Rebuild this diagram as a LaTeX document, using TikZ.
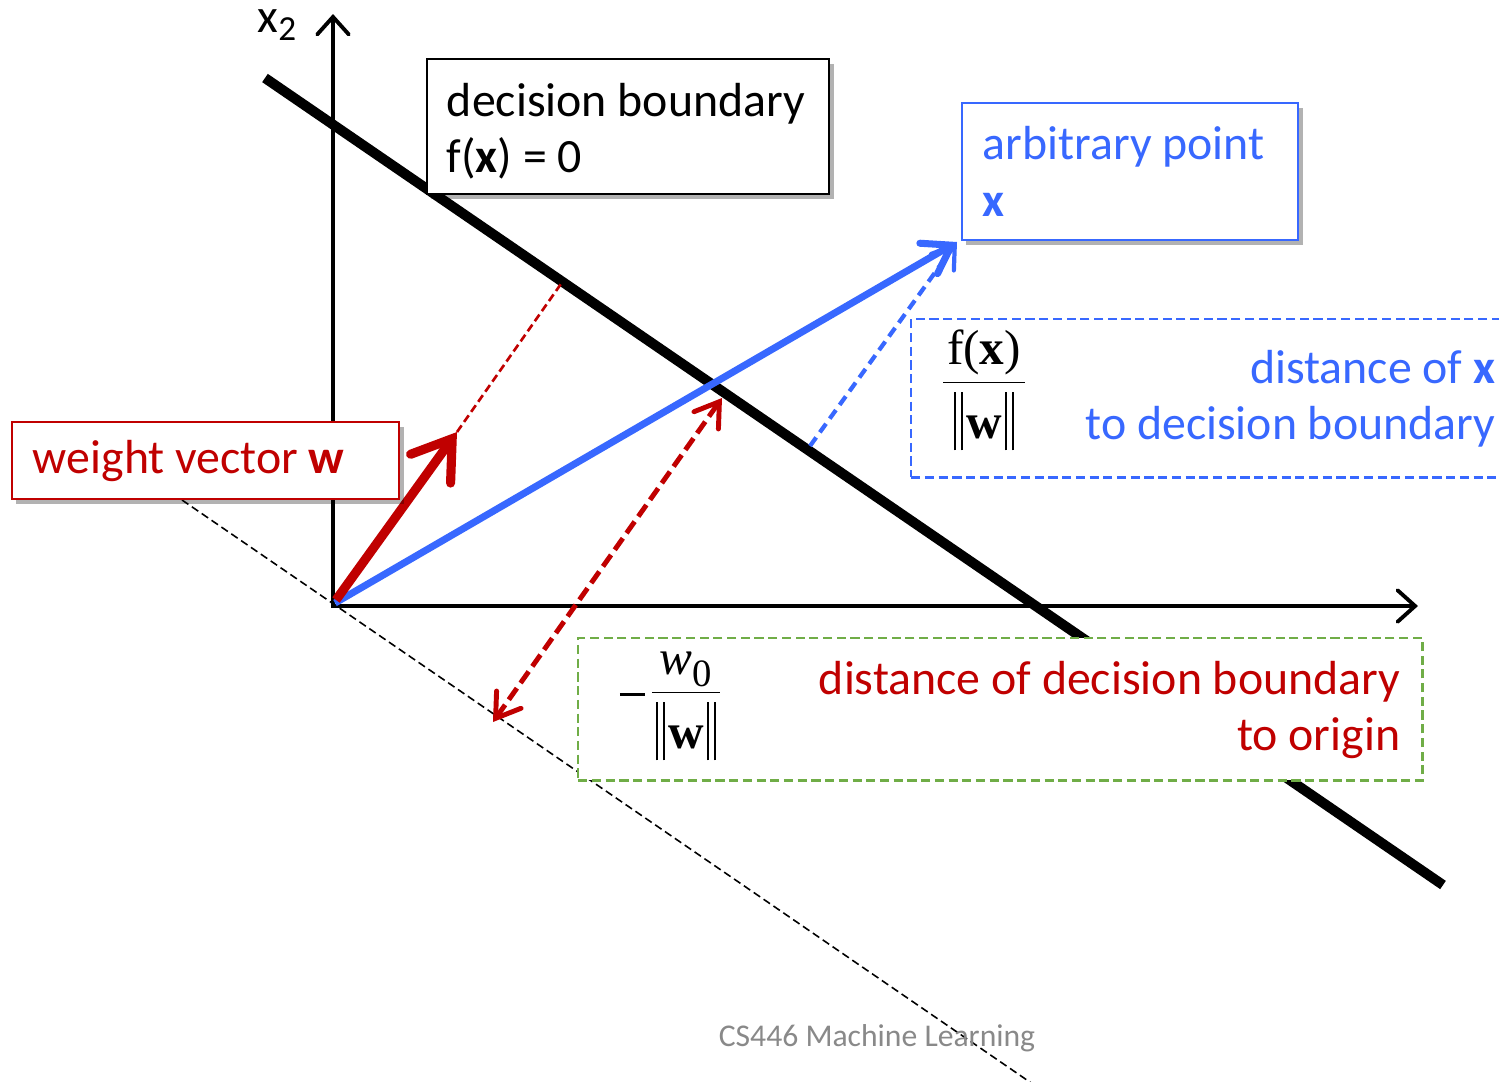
\documentclass[tikz,border=0pt]{standalone}
\usepackage{fontspec}
\setmainfont{Carlito}
\newfontfamily\tnr{Liberation Serif}
\usetikzlibrary{arrows.meta,shadows}
\definecolor{myred}{RGB}{192,0,0}
\definecolor{myblue}{RGB}{56,104,255}
\definecolor{mygreen}{RGB}{112,173,71}
\definecolor{mygray}{RGB}{137,137,137}
\hyphenpenalty=10000
\newcommand\mysp{\spaceskip=\fontdimen2\font\relax\xspaceskip=\fontdimen2\font\relax}
\newcommand\mydbar{\rule[-0.24em]{0.05em}{1.18em}\kern0.09em\rule[-0.24em]{0.05em}{1.18em}}
\newcommand\mynorm[1]{\mydbar\kern0.06em#1\kern0.06em\mydbar}
\newcommand\myfrac[2]{\begin{tabular}{@{\kern0.08em}c@{\kern0.08em}}#1\\[0.02em]\hline\rule{0pt}{1.12em}#2\end{tabular}}
\begin{document}
\begin{tikzpicture}[x=0.01cm,y=-0.01cm,
  txt/.style={font=\fontsize{13.6}{16}\selectfont},
  mathtxt/.style={font=\fontsize{14}{16}\selectfont\tnr, inner sep=0pt},
  box/.style={draw,line width=0.7pt,fill=white,txt,align=left,inner ysep=0pt,
     drop shadow={shadow xshift=1.3pt,shadow yshift=-1.3pt,fill=black,opacity=0.3}},
  dbox/.style={line width=0.7pt,fill=white,dash pattern=on 2.6pt off 1.3pt,inner sep=0pt,anchor=north west},
  axisline/.style={line width=1.1pt,-{Straight Barb[length=5pt,width=9pt,line cap=round]}},
  bound/.style={line width=2.85pt},
  wvec/.style={myred,line width=2.6pt,-{Straight Barb[length=10.5pt,width=14pt,line cap=round]}},
  xvec/.style={myblue,line width=2pt,-{Straight Barb[length=7.5pt,width=10pt,line cap=round]}},
  xdist/.style={myblue,line width=1.2pt,dash pattern=on 3pt off 1.8pt,-{Straight Barb[length=6pt,width=8pt,line cap=round]}},
  odist/.style={myred,line width=1.4pt,dash pattern=on 4pt off 1.8pt,{Straight Barb[length=6.5pt,width=8.5pt,line cap=round]}-{Straight Barb[length=6.5pt,width=8.5pt,line cap=round]}},
  wext/.style={myred,line width=0.75pt,dash pattern=on 2.3pt off 1.2pt},
  perp/.style={line width=0.45pt,dash pattern=on 2.2pt off 1.2pt}
]
\path[use as bounding box] (0,0) rectangle (1499,1081);
\clip (0,0) rectangle (1499,1081);

% coordinates
\coordinate (O) at (333,604);
\coordinate (ytop) at (333,14);
\coordinate (xs) at (331,606);
\coordinate (xe) at (1418,606);
\coordinate (b1) at (265,78);
\coordinate (b2) at (1443,885);
\coordinate (p1) at (182,500);
\coordinate (p2) at (1040,1089);
\coordinate (wo) at (336,600);
\coordinate (wt) at (457,432);
\coordinate (wb) at (563,281);
\coordinate (xo) at (335,603);
\coordinate (xp) at (957,242);
\coordinate (fb) at (810,446);
\coordinate (r1) at (493,722);
\coordinate (r2) at (722,398);

% axes and boundary
\draw[axisline] (O) -- (ytop);
\draw[axisline] (xs) -- (xe);
\draw[bound] (b1) -- (b2);
\draw[perp] (p1) -- (p2);

% vectors
\draw[wext] (wt) -- (wb);
\draw[odist] (r1) -- (r2);
\draw[xdist] (fb) -- (xp);
\draw[xvec] (xo) -- (xp);
\draw[wvec] (wo) -- (wt);

% labels
\node[txt, inner sep=0pt] (x2) at (277,25) {x\raisebox{-0.35ex}{\fontsize{10}{10}\selectfont 2}};

\node[box, text width=3.72cm, inner xsep=0.15cm, minimum height=1.35cm] (db) at (628,126.5)
  {\mysp\rule{0pt}{0.9em}\hspace*{0.05cm}decision boundary\\ \hspace*{0.05cm}f(\textbf{x}) = 0};
\node[box, draw=myblue, text=myblue, text width=2.94cm, inner xsep=0.21cm, minimum height=1.37cm] (ap) at (1130,171.5)
  {\mysp arbitrary point\\ \textbf{x}};
\node[box, draw=myred, text=myred, text width=3.45cm, inner xsep=0.21cm, minimum height=0.77cm] (wv) at (205.5,460.5)
  {\mysp weight vector \textbf{w}};

% blue dashed box
\node[dbox, draw=myblue, minimum width=6.2cm, minimum height=1.58cm] (bd) at (910,318) {};
\node[mathtxt] (fx) at (984,390)
  {\myfrac{f(\textbf{x})}{\mynorm{\textbf{w}}}};
\node[txt, text=myblue, align=right, anchor=east, inner sep=0pt] (dx) at (1496,399)
  {\mysp distance of \textbf{x}\\ to decision boundary};

% green dashed box
\node[dbox, draw=mygreen, minimum width=8.44cm, minimum height=1.42cm] (gd) at (577,637) {};
\node[mathtxt] (w0) at (670,700)
  {\raisebox{0.33em}{\rule{0.5em}{0.06em}}\kern0.15em\myfrac{\textit{w}\raisebox{-0.25em}{\fontsize{11}{11}\selectfont 0}}{\mynorm{\textbf{w}}}};
\node[txt, text=myred, align=right, anchor=east, inner sep=0pt] (dd) at (1401,710)
  {\mysp distance of decision boundary\\ to origin};

% footer
\node[text=mygray, font=\fontsize{9}{11}\selectfont] (ft) at (877,1038) {CS446 Machine Learning};
\end{tikzpicture}
\end{document}
